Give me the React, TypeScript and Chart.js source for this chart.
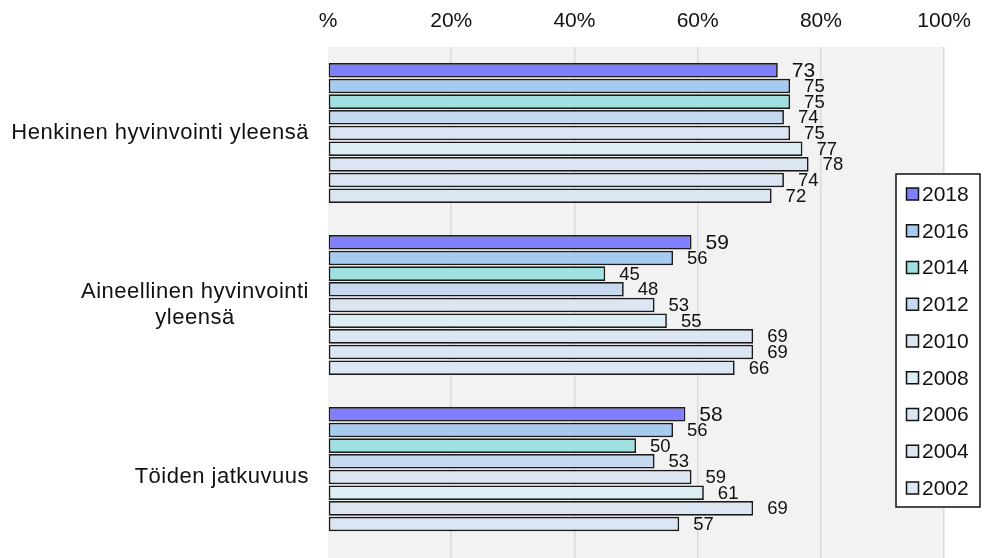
import React, { useEffect, useRef } from "react";
import { Chart, registerables } from "chart.js";

Chart.register(...registerables);

const categories: string[][] = [
  ["Henkinen hyvinvointi yleensä"],
  ["Aineellinen hyvinvointi", "yleensä"],
  ["Töiden jatkuvuus"],
];

const years = ["2018", "2016", "2014", "2012", "2010", "2008", "2006", "2004", "2002"];

const v2018 = [73, 59, 58];
const v2016 = [75, 56, 56];
const v2014 = [75, 45, 50];
const v2012 = [74, 48, 53];
const v2010 = [75, 53, 59];
const v2008 = [77, 55, 61];
const v2006 = [78, 69, 69];
const v2004 = [74, 69, 57];
const v2002 = [72, 66, null];

const seriesValues = [v2018, v2016, v2014, v2012, v2010, v2008, v2006, v2004, v2002];

const colors = [
  "#8080ff",
  "#a6caf0",
  "#a0e0e0",
  "#c6d9f0",
  "#dce6f2",
  "#dbeef4",
  "#dce6f2",
  "#dce6f2",
  "#dce6f2",
];

const xTicks = [0, 20, 40, 60, 80, 100];

const FONT = "'Liberation Sans', Arial, sans-serif";

export default function App() {
  const ref = useRef<HTMLCanvasElement | null>(null);

  useEffect(() => {
    if (!ref.current) return;

    const bgPlugin = {
      id: "bgPlugin",
      beforeDraw(chart: any) {
        const { ctx, chartArea } = chart;
        ctx.save();
        ctx.fillStyle = "#f2f2f2";
        ctx.fillRect(chartArea.left, chartArea.top, chartArea.right - chartArea.left, chartArea.bottom - chartArea.top);
        ctx.restore();
      },
    };

    const catLabelPlugin = {
      id: "catLabelPlugin",
      afterDraw(chart: any) {
        const { ctx } = chart;
        const yScale = chart.scales.y;
        const rightEdge = chart.chartArea.left - 19;
        ctx.save();
        ctx.font = `22px ${FONT}`;
        try {
          (ctx as any).letterSpacing = "0.5px";
        } catch (e) {}
        ctx.fillStyle = "#111";
        ctx.textBaseline = "middle";
        ctx.textAlign = "center";
        const lh = 25.5;
        categories.forEach((lines, i) => {
          const yc = yScale.getPixelForValue(i);
          const widest = Math.max(...lines.map((l) => ctx.measureText(l).width));
          const cx = rightEdge - widest / 2;
          const y0 = yc - ((lines.length - 1) * lh) / 2;
          lines.forEach((l, j) => {
            ctx.fillText(l, cx, y0 + j * lh);
          });
        });
        ctx.restore();
      },
    };

    const valueLabelPlugin = {
      id: "valueLabelPlugin",
      afterDatasetsDraw(chart: any) {
        const { ctx } = chart;
        ctx.save();
        ctx.fillStyle = "#111";
        ctx.textAlign = "left";
        ctx.textBaseline = "middle";
        chart.data.datasets.forEach((ds: any, di: number) => {
          const meta = chart.getDatasetMeta(di);
          ctx.font = di === 0 ? `21px ${FONT}` : `18.5px ${FONT}`;
          meta.data.forEach((el: any, i: number) => {
            const v = ds.data[i];
            if (v === null || v === undefined) return;
            ctx.fillText(String(v), el.x + 14, el.y + 1);
          });
        });
        ctx.restore();
      },
    };

    const legendPlugin = {
      id: "legendPlugin",
      afterDraw(chart: any) {
        const { ctx } = chart;
        ctx.save();
        const left = 896, top = 174, right = 980, bottom = 507;
        ctx.fillStyle = "#ffffff";
        ctx.fillRect(left, top, right - left, bottom - top);
        ctx.strokeStyle = "#111";
        ctx.lineWidth = 1.5;
        ctx.strokeRect(left, top, right - left, bottom - top);
        ctx.font = `21px ${FONT}`;
        ctx.textBaseline = "middle";
        ctx.textAlign = "left";
        chart.data.datasets.forEach((ds: any, i: number) => {
          const yc = 194 + i * 36.75;
          ctx.fillStyle = ds.backgroundColor;
          ctx.fillRect(906.5, yc - 6, 12, 12);
          ctx.strokeStyle = "#111";
          ctx.lineWidth = 1.5;
          ctx.strokeRect(906.5, yc - 6, 12, 12);
          ctx.fillStyle = "#111";
          ctx.fillText(ds.label, 922, yc + 1);
        });
        ctx.restore();
      },
    };

    const chart = new Chart(ref.current, {
      type: "bar",
      data: {
        labels: categories as any,
        datasets: years.map((y, i) => ({
          label: y,
          data: seriesValues[i] as any,
          backgroundColor: colors[i],
          borderColor: "#1a1a1a",
          borderWidth: 1.7,
          borderSkipped: false,
          categoryPercentage: 0.82,
          barPercentage: 0.93,
        })),
      },
      options: {
        indexAxis: "y",
        responsive: false,
        animation: false,
        devicePixelRatio: 1,
        layout: { padding: { left: 0, right: 38, top: 0, bottom: 7 } },
        plugins: {
          legend: { display: false },
          tooltip: { enabled: false },
        },
        scales: {
          x: {
            type: "linear",
            position: "top",
            min: 0,
            max: 100,
            afterBuildTicks: (s: any) => {
              s.ticks = xTicks.map((v) => ({ value: v }));
            },
            ticks: {
              stepSize: 20,
              padding: 13,
              color: "#111",
              font: { family: FONT, size: 21 },
              callback: (v: any) => (Number(v) === 0 ? "%" : `${v}%`),
            },
            grid: {
              color: (c: any) => (c.tick && c.tick.value === 0 ? "rgba(0,0,0,0)" : "#dadada"),
              lineWidth: 1.5,
              drawTicks: false,
            },
            border: { display: false },
            afterFit: (s: any) => {
              s.height = 47;
            },
          },
          y: {
            type: "category",
            ticks: { display: false },
            grid: { display: false },
            border: { display: false },
            afterFit: (s: any) => {
              s.width = 328;
            },
          },
        },
      } as any,
      plugins: [bgPlugin, valueLabelPlugin, catLabelPlugin, legendPlugin],
    });

    return () => chart.destroy();
  }, []);

  return (
    <div style={{ position: "absolute", left: 0, top: 0, width: 984, height: 570 }}>
      <canvas ref={ref} width={984} height={570} style={{ width: 984, height: 570 }} />
    </div>
  );
}
